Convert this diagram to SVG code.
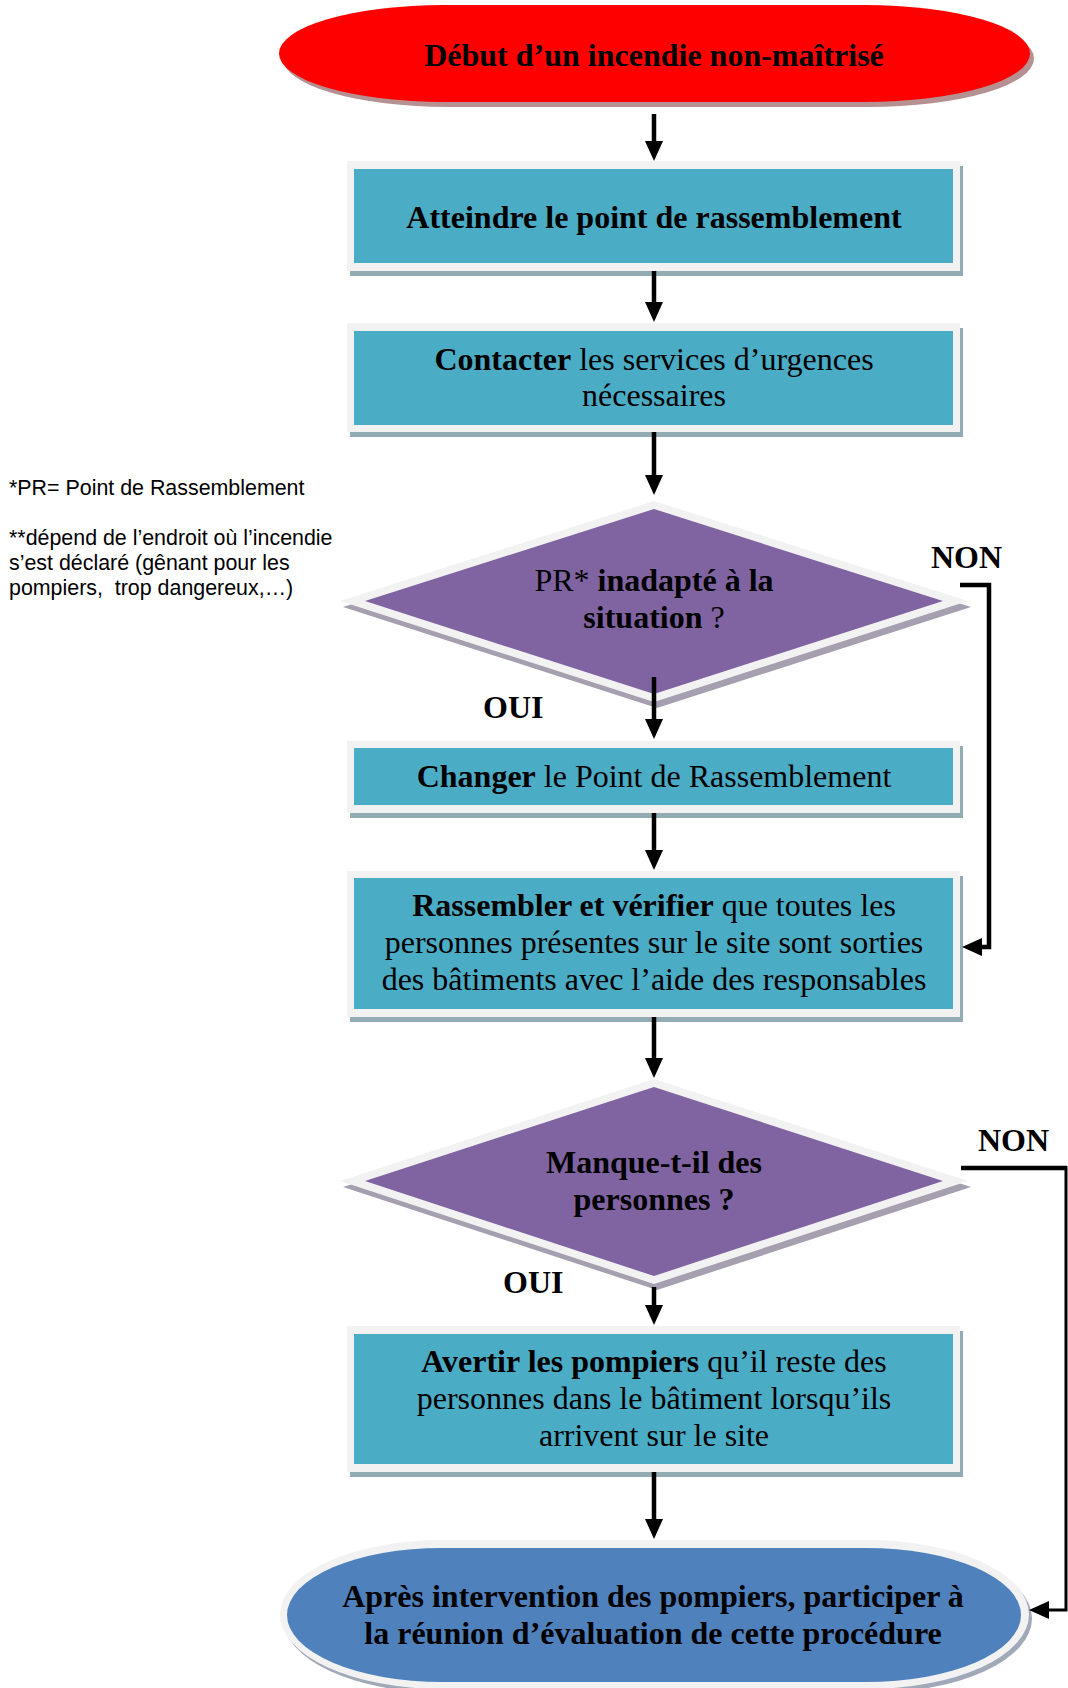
<svg xmlns="http://www.w3.org/2000/svg" width="1068" height="1688" viewBox="0 0 1068 1688">
  <style>
    .t { font-family: "Liberation Serif", "Times New Roman", serif; font-size: 32px; fill: #000; text-anchor: middle; }
    .b { font-weight: bold; }
    .n { font-weight: normal; }
    .lbl { font-family: "Liberation Serif", "Times New Roman", serif; font-size: 32px; font-weight: bold; fill: #000; }
    .note { font-family: "Liberation Sans", Arial, sans-serif; font-size: 21.4px; fill: #000; white-space: pre; }
    .light { fill: #f2f2f2; }
    .teal { fill: #4bacc6; }
    .bshadow { fill: #93abb3; }
    .purple { fill: #8064a2; }
    .dshadow { fill: #a59fb0; }
    .conn { fill: none; stroke: #000; stroke-width: 4.5; stroke-linejoin: miter; }
    .thin { stroke-width: 3; }
  </style>
  <defs>
    <marker id="ah" viewBox="0 0 20 18" refX="10" refY="9" markerWidth="20" markerHeight="18" markerUnits="userSpaceOnUse" orient="auto">
      <path d="M0,0 L20,9 L0,18 Z" fill="#000"/>
    </marker>
  </defs>

  <rect width="1068" height="1688" fill="#fff"/>

  <g id="note">
    <text class="note" x="9" y="495">*PR= Point de Rassemblement</text>
    <text class="note" x="9" y="545">**dépend de l’endroit où l’incendie</text>
    <text class="note" x="9" y="570">s’est déclaré (gênant pour les</text>
    <text class="note" x="9" y="595">pompiers,  trop dangereux,…)</text>
  </g>

  <g id="start">
    <rect x="283" y="10" width="751" height="97" rx="165" ry="48.5" fill="#b69191"/>
    <rect x="279" y="5" width="751" height="97" rx="165" ry="48.5" fill="#ff0000"/>
    <text class="t b" x="654" y="66">Début d’un incendie non-maîtrisé</text>
  </g>

  <g id="atteindre">
    <rect class="bshadow" x="350" y="166" width="613" height="110"/>
    <rect class="light" x="347" y="161" width="613" height="110"/>
    <rect class="teal" x="354" y="169" width="599" height="94"/>
    <text class="t b" x="654" y="228">Atteindre le point de rassemblement</text>
  </g>

  <g id="contacter">
    <rect class="bshadow" x="350" y="328" width="613" height="109"/>
    <rect class="light" x="347" y="323" width="613" height="109"/>
    <rect class="teal" x="354" y="331" width="599" height="94"/>
    <text class="t" x="654" y="370"><tspan class="b">Contacter</tspan> les services d’urgences</text>
    <text class="t" x="654" y="406">nécessaires</text>
  </g>

  <g id="decision1">
    <polygon class="dshadow" points="343,607 657,507 971,607 657,708"/>
    <polygon class="light" points="340,601 654,501 968,601 654,702"/>
    <polygon class="purple" points="365,601 654,509 943,601 654,694"/>
    <text class="t" x="654" y="591"><tspan>PR*</tspan><tspan class="b"> inadapté à la</tspan></text>
    <text class="t" x="654" y="628"><tspan class="b">situation</tspan> ?</text>
  </g>

  <g id="changer">
    <rect class="bshadow" x="350" y="746" width="613" height="72"/>
    <rect class="light" x="347" y="741" width="613" height="72"/>
    <rect class="teal" x="354" y="748" width="599" height="57"/>
    <text class="t" x="654" y="787"><tspan class="b">Changer</tspan> le Point de Rassemblement</text>
  </g>

  <g id="rassembler">
    <rect class="bshadow" x="350" y="876" width="613" height="146"/>
    <rect class="light" x="347" y="871" width="613" height="146"/>
    <rect class="teal" x="354" y="878" width="599" height="131"/>
    <text class="t" x="654" y="916"><tspan class="b">Rassembler et vérifier</tspan> que toutes les</text>
    <text class="t" x="654" y="953">personnes présentes sur le site sont sorties</text>
    <text class="t" x="654" y="990">des bâtiments avec l’aide des responsables</text>
  </g>

  <g id="decision2">
    <polygon class="dshadow" points="343,1187 657,1085 971,1187 657,1290"/>
    <polygon class="light" points="340,1181 654,1079 968,1181 654,1284"/>
    <polygon class="purple" points="365,1181 654,1087 943,1181 654,1276"/>
    <text class="t b" x="654" y="1173">Manque-t-il des</text>
    <text class="t b" x="654" y="1210">personnes ?</text>
  </g>

  <g id="avertir">
    <rect class="bshadow" x="350" y="1331" width="613" height="146"/>
    <rect class="light" x="347" y="1326" width="613" height="146"/>
    <rect class="teal" x="354" y="1334" width="599" height="130"/>
    <text class="t" x="654" y="1372"><tspan class="b">Avertir les pompiers</tspan> qu’il reste des</text>
    <text class="t" x="654" y="1409">personnes dans le bâtiment lorsqu’ils</text>
    <text class="t" x="654" y="1446">arrivent sur le site</text>
  </g>

  <g id="end">
    <rect x="283" y="1544" width="749" height="149" rx="162" ry="74.5" fill="#a0a9b8"/>
    <rect x="280" y="1540" width="749" height="149" rx="162" ry="74.5" fill="#f2f2f2"/>
    <rect x="287" y="1548" width="734" height="134" rx="155" ry="67" fill="#4f81bd"/>
    <text class="t b" x="653" y="1607">Après intervention des pompiers, participer à</text>
    <text class="t b" x="653" y="1644">la réunion d’évaluation de cette procédure</text>
  </g>

  <g id="connectors">
    <line class="conn" x1="654" y1="114" x2="654" y2="151" marker-end="url(#ah)"/>
    <line class="conn" x1="654" y1="271" x2="654" y2="312" marker-end="url(#ah)"/>
    <line class="conn" x1="654" y1="432" x2="654" y2="485" marker-end="url(#ah)"/>
    <line class="conn" x1="654" y1="677" x2="654" y2="729" marker-end="url(#ah)"/>
    <line class="conn" x1="654" y1="813" x2="654" y2="860" marker-end="url(#ah)"/>
    <line class="conn" x1="654" y1="1017" x2="654" y2="1068" marker-end="url(#ah)"/>
    <line class="conn" x1="654" y1="1287" x2="654" y2="1315" marker-end="url(#ah)"/>
    <line class="conn" x1="654" y1="1472" x2="654" y2="1529" marker-end="url(#ah)"/>
    <path class="conn" d="M960,585 H989 V947 H972" marker-end="url(#ah)"/>
    <path class="conn" d="M961,1168 H1067"/>
    <path class="conn thin" d="M1066,1166 V1610 H1039" marker-end="url(#ah)"/>
    <text class="lbl" x="931" y="568">NON</text>
    <text class="lbl" x="483" y="718">OUI</text>
    <text class="lbl" x="978" y="1151">NON</text>
    <text class="lbl" x="503" y="1293">OUI</text>
  </g>
</svg>
